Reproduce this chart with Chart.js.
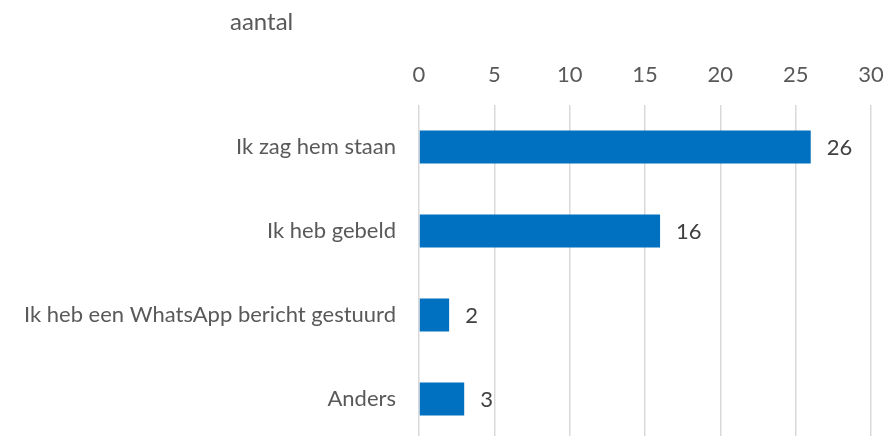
<!DOCTYPE html>
<html>
<head>
<meta charset="utf-8">
<script src="https://cdn.jsdelivr.net/npm/chart.js@4"></script>
<style>
  html, body { margin: 0; padding: 0; background: #fff; overflow: hidden; }
  #wrap { width: 886px; height: 442px; }
</style>
</head>
<body>
<div id="wrap"><canvas id="myChart" width="886" height="442"></canvas></div>
<script>
var categories = ["Ik zag hem staan", "Ik heb gebeld", "Ik heb een WhatsApp bericht gestuurd", "Anders"];
var values = [26, 16, 2, 3];
var ticksX = [0, 5, 10, 15, 20, 25, 30];
var titleText = "aantal";

var textColor = '#595959';
var fontFamily = 'Lato, "Open Sans", sans-serif';
var fontSize = 22;

// value next to the end of each bar
var valueLabels = {
    id: 'valueLabels',
    afterDatasetsDraw: function (chart) {
        var ctx = chart.ctx;
        var meta = chart.getDatasetMeta(0);
        ctx.save();
        ctx.font = fontSize + 'px ' + fontFamily;
        ctx.fillStyle = '#404040';
        ctx.textAlign = 'left';
        ctx.textBaseline = 'middle';
        meta.data.forEach(function (bar, i) {
            ctx.fillText(values[i], bar.x + 16, bar.y + 1);
        });
        ctx.restore();
    }
};

// axis title sits above the labels, left of the plot
var sideTitle = {
    id: 'sideTitle',
    afterDraw: function (chart) {
        var ctx = chart.ctx;
        ctx.save();
        ctx.font = '24px ' + fontFamily;
        ctx.fillStyle = textColor;
        ctx.textAlign = 'left';
        ctx.textBaseline = 'middle';
        ctx.fillText(titleText, chart.chartArea.left - 189, 22);
        ctx.restore();
    }
};

var chart = new Chart(document.getElementById('myChart'), {
    type: 'bar',
    data: {
        labels: categories,
        datasets: [{
            label: titleText,
            data: values,
            backgroundColor: '#0070C0',
            borderWidth: 0,
            barPercentage: 0.39,
            categoryPercentage: 1
        }]
    },
    options: {
        indexAxis: 'y',
        responsive: false,
        animation: false,
        layout: { padding: { top: 61, right: 15, bottom: 1, left: 0 } },
        plugins: {
            legend: { display: false },
            title: { display: false },
            tooltip: { enabled: false }
        },
        scales: {
            x: {
                position: 'top',
                min: 0,
                max: 30,
                afterBuildTicks: function (scale) {
                    scale.ticks = ticksX.map(function (v) { return { value: v }; });
                },
                afterFit: function (scale) {
                    scale.height = 44;
                    scale.paddingLeft = 0;
                    scale.paddingRight = 0;
                },
                grid: { color: '#d9d9d9', lineWidth: 1.5, drawTicks: false, tickLength: 0 },
                border: { display: false },
                ticks: { color: textColor, font: { family: fontFamily, size: fontSize }, padding: 17, maxRotation: 0 }
            },
            y: {
                grid: { display: false, drawTicks: false },
                border: { display: false },
                afterFit: function (scale) {
                    scale.width = 419;
                    scale.paddingTop = 0;
                    scale.paddingBottom = 0;
                },
                ticks: { color: textColor, font: { family: fontFamily, size: fontSize }, padding: 23 }
            }
        }
    },
    plugins: [valueLabels, sideTitle]
});
</script>
</body>
</html>
